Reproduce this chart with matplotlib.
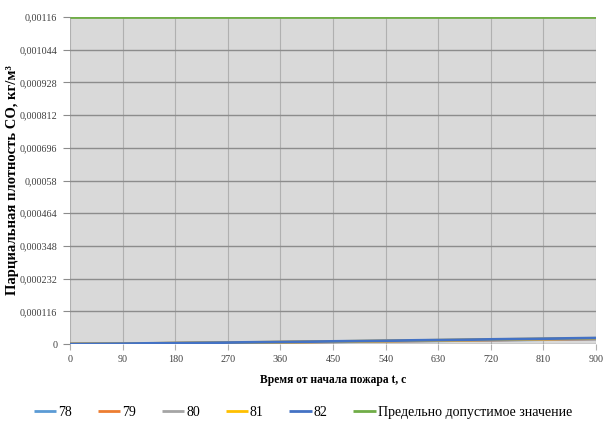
import matplotlib.pyplot as plt
from matplotlib.ticker import FixedLocator
import numpy as np

plt.rcParams['font.family'] = ['Liberation Serif', 'DejaVu Serif']

# time points, s
t = [0, 90, 180, 270, 360, 450, 540, 630, 720, 810, 900]

# partial CO density for each room, kg/m3
co_78 = [0, 0.0000010, 0.0000025, 0.0000040, 0.0000058, 0.0000076, 0.0000095, 0.0000115, 0.0000135, 0.0000155, 0.0000175]
co_79 = [0, 0.0000011, 0.0000027, 0.0000043, 0.0000061, 0.0000080, 0.0000100, 0.0000121, 0.0000142, 0.0000163, 0.0000184]
co_80 = [0, 0.0000012, 0.0000029, 0.0000046, 0.0000064, 0.0000084, 0.0000105, 0.0000127, 0.0000149, 0.0000171, 0.0000193]
co_81 = [0, 0.0000013, 0.0000031, 0.0000049, 0.0000068, 0.0000089, 0.0000111, 0.0000134, 0.0000157, 0.0000180, 0.0000203]
co_82 = [0, 0.0000014, 0.0000033, 0.0000052, 0.0000072, 0.0000094, 0.0000117, 0.0000141, 0.0000165, 0.0000189, 0.0000213]
limit = [0.00116] * len(t)

series = [('78', co_78, '#5B9BD5'),
          ('79', co_79, '#ED7D31'),
          ('80', co_80, '#A5A5A5'),
          ('81', co_81, '#FFC000'),
          ('82', co_82, '#4472C4'),
          ('Предельно допустимое значение', limit, '#70AD47')]

y_ticks = [0, 0.000116, 0.000232, 0.000348, 0.000464, 0.00058,
           0.000696, 0.000812, 0.000928, 0.001044, 0.00116]
y_labels = ['0', '0,000116', '0,000232', '0,000348', '0,000464', '0,00058',
            '0,000696', '0,000812', '0,000928', '0,001044', '0,00116']

fig = plt.figure(figsize=(6.06, 4.33), dpi=100)
ax = fig.add_axes([0.1155, 0.2055, 0.868, 0.755])
ax.set_facecolor('#d9d9d9')

for name, vals, color in series:
    ax.plot(t, vals, color=color, lw=2, label=name, solid_capstyle='butt')

ax.set_xlim(0, 900)
ax.set_ylim(0, 0.00116)
ax.xaxis.set_major_locator(FixedLocator(t))
ax.set_yticks(y_ticks)
ax.set_yticklabels(y_labels)

ax.grid(axis='y', color='#8c8c8c', lw=1)
ax.grid(axis='x', color='#b0b0b0', lw=0.8)
ax.set_axisbelow(True)
for s in ax.spines.values():
    s.set_visible(False)

ax.tick_params(axis='y', length=5, color='#8c8c8c', labelsize=7.3, labelcolor='#404040', pad=4)
ax.tick_params(axis='x', length=4, color='#b0b0b0', labelsize=7.3, labelcolor='#404040', pad=4)

ax.set_xlabel('Время от начала пожара t, с', fontsize=8.3, fontweight='bold', labelpad=7)
ax.set_ylabel('Парциальная плотность CO, кг/м³', fontsize=10.5, fontweight='bold')
ax.yaxis.set_label_coords(-0.097, 0.5)

fig.legend(loc='center', bbox_to_anchor=(0.5, 0.048), ncol=6, frameon=False,
           fontsize=10, handlelength=1.6, handletextpad=0.15, columnspacing=1.85)

fig.savefig('out.png', dpi=100)
